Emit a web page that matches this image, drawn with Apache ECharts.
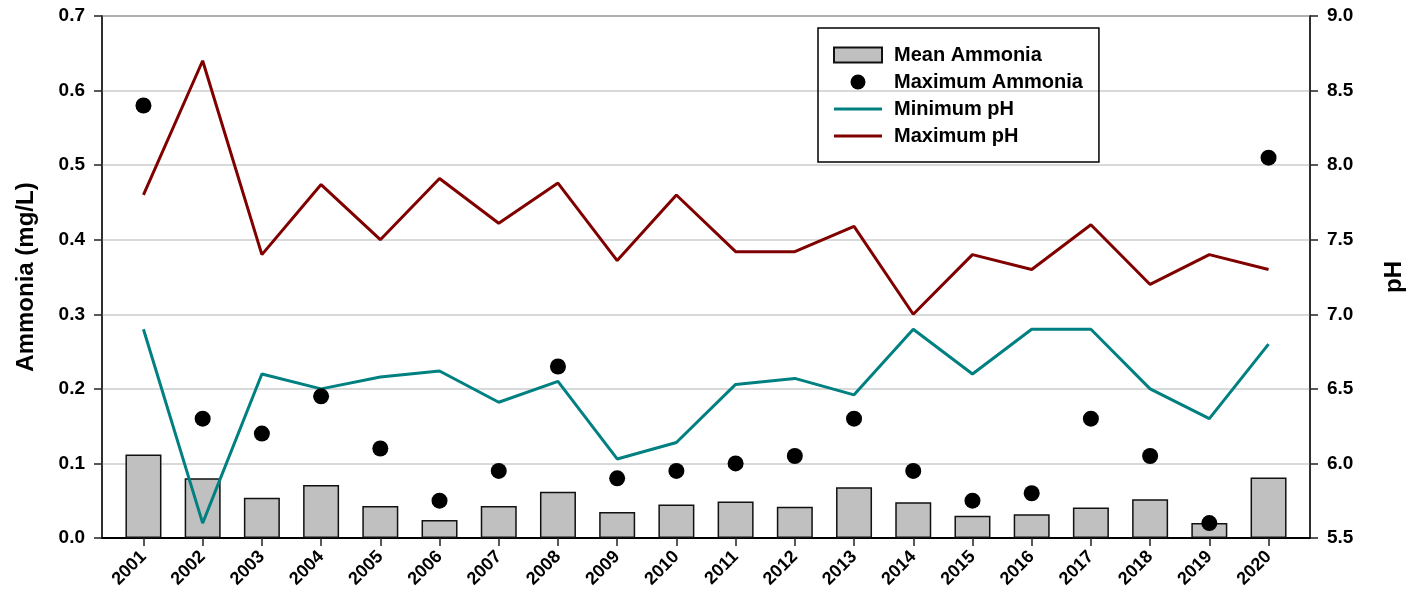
<!DOCTYPE html>
<html>
<head>
<meta charset="utf-8">
<script src="https://cdn.jsdelivr.net/npm/echarts@6/dist/echarts.min.js"></script>
<style>
  html, body { margin: 0; padding: 0; background: #fff; }
  #chart { width: 1414px; height: 599px; }
</style>
</head>
<body>
<div id="chart"></div>
<script>
// years on the x axis
var years = [2001, 2002, 2003, 2004, 2005, 2006, 2007, 2008, 2009, 2010,
             2011, 2012, 2013, 2014, 2015, 2016, 2017, 2018, 2019, 2020];
// ammonia, mg/L (left axis)
var meanAmmonia = [0.112, 0.080, 0.054, 0.071, 0.043, 0.024, 0.043, 0.062, 0.035, 0.045,
                   0.049, 0.042, 0.068, 0.048, 0.030, 0.032, 0.041, 0.052, 0.020, 0.081];
var maxAmmonia = [0.58, 0.16, 0.14, 0.19, 0.12, 0.05, 0.09, 0.23, 0.08, 0.09,
                  0.10, 0.11, 0.16, 0.09, 0.05, 0.06, 0.16, 0.11, 0.02, 0.51];
// pH (right axis)
var minPH = [6.90, 5.60, 6.60, 6.50, 6.58, 6.62, 6.41, 6.55, 6.03, 6.14,
             6.53, 6.57, 6.46, 6.90, 6.60, 6.90, 6.90, 6.50, 6.30, 6.80];
var maxPH = [7.80, 8.70, 7.40, 7.87, 7.50, 7.91, 7.61, 7.88, 7.36, 7.80,
             7.42, 7.42, 7.59, 7.00, 7.40, 7.30, 7.60, 7.20, 7.40, 7.30];

function pairs(vals) {
  var out = [];
  for (var i = 0; i < years.length; i++) {
    out.push([years[i], vals[i]]);
  }
  return out;
}

var font = 'Liberation Sans, Arial, sans-serif';
// flat bar used as legend icon for the pH lines
var lineIcon = 'path://M0,0 L48,0 L48,3 L0,3 Z';
var myChart = echarts.init(document.getElementById('chart'));

var option = {
  animation: false,
  textStyle: { fontFamily: font },
  grid: {
    left: 102, right: 94, top: 16, bottom: 61,
    show: true, borderColor: '#222', borderWidth: 1.5
  },
  legend: {
    orient: 'vertical',
    left: 818, top: 28,
    borderColor: '#000', borderWidth: 1.5,
    padding: [17, 16, 16, 15],
    itemWidth: 48, itemHeight: 15, itemGap: 7,
    textStyle: { fontFamily: font, fontWeight: 'bold', fontSize: 20, color: '#000', padding: [0, 0, 0, 7] },
    data: [
      { name: 'Mean Ammonia', icon: 'rect' },
      { name: 'Maximum Ammonia', icon: 'circle' },
      { name: 'Minimum pH', icon: lineIcon },
      { name: 'Maximum pH', icon: lineIcon }
    ]
  },
  xAxis: {
    type: 'value',
    min: 2000.3, max: 2020.7,
    axisLine: { show: true, onZero: false, lineStyle: { color: '#000', width: 2 } },
    axisTick: { show: true, customValues: years, length: 8, lineStyle: { color: '#222', width: 1.5 } },
    axisLabel: {
      customValues: years, rotate: 45, margin: 16,
      fontFamily: font, fontWeight: 'bold', fontSize: 18, color: '#000',
      formatter: function (v) { return String(v); }
    },
    splitLine: { show: false }
  },
  yAxis: [
    {
      type: 'value', min: 0, max: 0.7, interval: 0.1,
      name: 'Ammonia (mg/L)', nameLocation: 'middle', nameGap: 64,
      nameTextStyle: { fontFamily: font, fontWeight: 'bold', fontSize: 24, color: '#000' },
      axisLine: { show: true, lineStyle: { color: '#222', width: 1.5 } },
      axisTick: { show: true, length: 8, lineStyle: { color: '#222', width: 1.5 } },
      axisLabel: {
        fontFamily: font, fontWeight: 'bold', fontSize: 19, color: '#000', margin: 17,
        formatter: function (v) { return v.toFixed(1); }
      },
      splitLine: { show: true, lineStyle: { color: '#cccccc', width: 1.5 } }
    },
    {
      type: 'value', min: 5.5, max: 9.0, interval: 0.5, position: 'right',
      name: 'pH', nameLocation: 'middle', nameGap: 72,
      nameTextStyle: { fontFamily: font, fontWeight: 'bold', fontSize: 24, color: '#000' },
      axisLine: { show: true, lineStyle: { color: '#222', width: 1.5 } },
      axisTick: { show: true, length: 8, lineStyle: { color: '#222', width: 1.5 } },
      axisLabel: {
        fontFamily: font, fontWeight: 'bold', fontSize: 19, color: '#000', margin: 17,
        formatter: function (v) { return v.toFixed(1); }
      },
      splitLine: { show: false }
    }
  ],
  series: [
    {
      name: 'Mean Ammonia',
      type: 'bar',
      yAxisIndex: 0,
      barWidth: 36,
      itemStyle: { color: '#c0c0c0', borderColor: '#111', borderWidth: 1.5 },
      data: pairs(meanAmmonia),
      z: 2
    },
    {
      name: 'Minimum pH',
      type: 'line',
      yAxisIndex: 1,
      symbol: 'none',
      lineStyle: { color: '#008080', width: 3 },
      itemStyle: { color: '#008080' },
      data: pairs(minPH),
      z: 3
    },
    {
      name: 'Maximum pH',
      type: 'line',
      yAxisIndex: 1,
      symbol: 'none',
      lineStyle: { color: '#800000', width: 3 },
      itemStyle: { color: '#800000' },
      data: pairs(maxPH),
      z: 3
    },
    {
      name: 'Maximum Ammonia',
      type: 'scatter',
      yAxisIndex: 0,
      symbolSize: 16,
      itemStyle: { color: '#000', opacity: 1 },
      data: pairs(maxAmmonia),
      z: 4
    }
  ]
};

option && myChart.setOption(option);
</script>
</body>
</html>
